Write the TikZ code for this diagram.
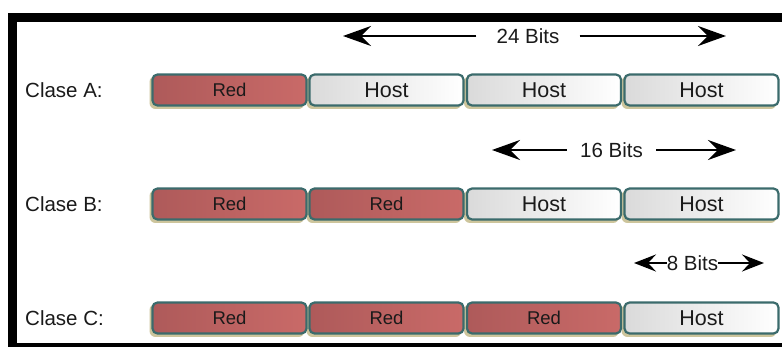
\documentclass[tikz,border=0pt]{standalone}
\usepackage{fontspec}
\setmainfont{Liberation Sans}
\usetikzlibrary{arrows.meta}
\definecolor{frameblk}{HTML}{000000}
\definecolor{boxedge}{HTML}{3B6B6C}
\definecolor{shadowc}{HTML}{CDC59C}
\definecolor{redL}{HTML}{AE5A5A}
\definecolor{redR}{HTML}{C96A68}
\definecolor{hostL}{HTML}{DADADA}
\definecolor{hostR}{HTML}{FFFFFF}
\definecolor{txt}{HTML}{1A1A1A}
\tikzset{
  fieldbox/.style={minimum width=154pt, minimum height=31pt, inner sep=0pt,
    rounded corners=5pt, draw=boxedge, line width=2.2pt, text=txt},
  redbox/.style={fieldbox, left color=redL, right color=redR,
    font=\fontsize{18.5}{20}\selectfont},
  hostbox/.style={fieldbox, left color=hostL, right color=hostR,
    font=\fontsize{21.5}{23}\selectfont},
  classlabel/.style={anchor=west, inner sep=0pt, text=txt,
    font=\fontsize{20.5}{23}\selectfont},
  bitslabel/.style={inner ysep=0pt, text=txt, font=\fontsize{20.5}{23}\selectfont},
  bigarrow/.style={line width=2.6pt, -{Stealth[length=28pt, width=20pt, inset=10pt]}},
  smallarrow/.style={line width=2.6pt, -{Stealth[length=22pt, width=17pt, inset=8pt]}},
}
\begin{document}
\begin{tikzpicture}[x=1pt,y=-1pt]
\useasboundingbox (0,0) rectangle (782,347);
\fill[white] (0,0) rectangle (782,347);
% frame
\fill[frameblk] (8,13) rectangle (782,22);
\fill[frameblk] (8,13) rectangle (17,347);
\fill[frameblk] (8,343) rectangle (782,347);

% shadows
\foreach \xx in {229.5,386.5,544,701.5}{
  \foreach \yy in {90,204,318}{
    \fill[shadowc, rounded corners=6pt] (\xx-80,\yy-14) rectangle (\xx+75,\yy+19);
  }
}

% row A
\node[classlabel] (la) at (25,90) {Clase A:};
\node[redbox]  (a1) at (229.5,90) {Red};
\node[hostbox] (a2) at (386.5,90) {Host};
\node[hostbox] (a3) at (544,90) {Host};
\node[hostbox] (a4) at (701.5,90) {Host};
% row B
\node[classlabel] (lb) at (25,204) {Clase B:};
\node[redbox]  (b1) at (229.5,204) {Red};
\node[redbox]  (b2) at (386.5,204) {Red};
\node[hostbox] (b3) at (544,204) {Host};
\node[hostbox] (b4) at (701.5,204) {Host};
% row C
\node[classlabel] (lc) at (25,318) {Clase C:};
\node[redbox]  (c1) at (229.5,318) {Red};
\node[redbox]  (c2) at (386.5,318) {Red};
\node[redbox]  (c3) at (544,318) {Red};
\node[hostbox] (c4) at (701.5,318) {Host};

% 24 bits
\node[bitslabel, inner xsep=20pt] (t24) at (528,36) {24 Bits};
\coordinate (l24) at (343,36);
\coordinate (r24) at (726,36);
\draw[bigarrow] (t24.west) -- (l24);
\draw[bigarrow] (t24.east) -- (r24);
% 16 bits
\node[bitslabel, inner xsep=13pt] (t16) at (611.5,150) {16 Bits};
\coordinate (l16) at (492,150);
\coordinate (r16) at (736,150);
\draw[bigarrow] (t16.west) -- (l16);
\draw[bigarrow] (t16.east) -- (r16);
% 8 bits
\node[bitslabel, inner xsep=0pt] (t8) at (692.5,263) {8 Bits};
\coordinate (l8) at (634,263);
\coordinate (r8) at (764,263);
\draw[smallarrow] (t8.west) -- (l8);
\draw[smallarrow] (t8.east) -- (r8);
\end{tikzpicture}
\end{document}
